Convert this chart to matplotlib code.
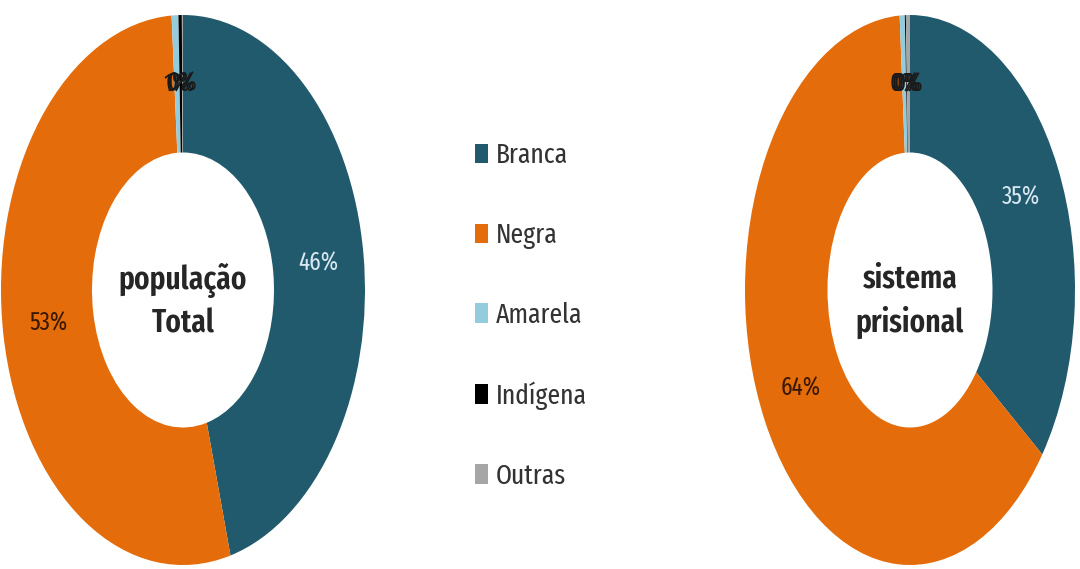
import matplotlib
matplotlib.use("Agg")
import matplotlib.pyplot as plt
from matplotlib.patches import Patch

# data
categories = ["Branca", "Negra", "Amarela", "Indígena", "Outras"]
pop_total = [45.8, 53.2, 0.6, 0.3, 0.1]
sist_prisional = [35.2, 63.8, 0.5, 0.1, 0.4]
center_titles = ["população\nTotal", "sistema\nprisional"]

colors = ["#215a6d", "#e46c0a", "#93cddd", "#000000", "#a6a6a6"]
pct_colors = ["#d8e8f0", "#3a1800", "#1a1a1a", "#1a1a1a", "#1a1a1a"]

# reference text is a tall, narrow face -> condensed family, with fallbacks
plt.rcParams["font.family"] = ["Fira Sans Extra Condensed", "Noto Sans", "DejaVu Sans"]

fig = plt.figure(figsize=(10.8, 5.69), dpi=100)
fig.patch.set_facecolor("white")

# axes boxes in figure fractions (donuts are stretched vertically in the reference)
ax_left = fig.add_axes([1 / 1080, 4 / 569, 364 / 1080, 550 / 569])
ax_right = fig.add_axes([745 / 1080, 4 / 569, 330 / 1080, 550 / 569])

for ax, vals, title in zip([ax_left, ax_right], [pop_total, sist_prisional], center_titles):
    wedges, texts, autotexts = ax.pie(
        vals,
        colors=colors,
        startangle=90,
        counterclock=False,
        radius=1.0,
        wedgeprops=dict(width=0.5, edgecolor="none"),
        autopct="%.0f%%",
        pctdistance=0.75,
        textprops=dict(fontsize=18),
    )
    for t, c in zip(autotexts, pct_colors):
        t.set_color(c)
    ax.text(0, -0.04, title, ha="center", va="center", fontsize=23,
            fontweight="semibold", color="#262626", linespacing=1.4)
    ax.set_aspect("auto")
    ax.set_xlim(-1.0, 1.0)
    ax.set_ylim(-1.0, 1.0)
    ax.axis("off")

handles = [Patch(facecolor=c, edgecolor="none") for c in colors]
fig.legend(
    handles, categories,
    loc="center left",
    bbox_to_anchor=(450 / 1080, 0.445),
    frameon=False,
    fontsize=20,
    handlelength=0.45,
    handleheight=0.7,
    handletextpad=0.3,
    labelspacing=1.9,
    labelcolor="#333333",
)

fig.savefig("out.png", dpi=100, facecolor="white")
